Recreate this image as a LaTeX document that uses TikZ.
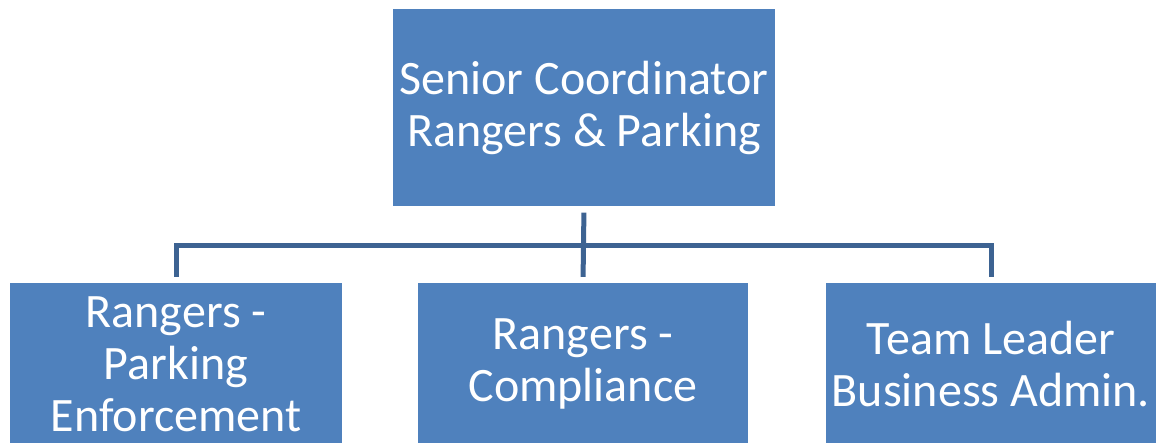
\documentclass[tikz,border=0pt]{standalone}
\usepackage{fontspec}
\setmainfont{Carlito}
\usepackage{tikz}
\usetikzlibrary{positioning}

\begin{document}
\begin{tikzpicture}[x=1pt,y=-1pt,
    unit/.style={draw=none,fill={rgb,255:red,79;green,129;blue,189},text=white,
      align=center,inner sep=0pt,font=\fontsize{48}{52}\selectfont},
    conn/.style={draw={rgb,255:red,61;green,99;blue,146},line width=5pt,
      shorten <=6pt,shorten >=6pt}]
  \useasboundingbox (0,0) rectangle (1156,443);
  \node[unit,minimum width=382pt,minimum height=197pt] (sc) at (584,108)
    {Senior Coordinator\\Rangers \& Parking};
  \node[unit,minimum width=332pt,minimum height=162pt] (pe) at (176,364)
    {Rangers -\\Parking\\Enforcement};
  \node[unit,minimum width=330pt,minimum height=162pt] (rc) at (583,364)
    {Rangers -\\Compliance};
  \node[unit,minimum width=330pt,minimum height=162pt] (ba) at (991,364)
    {Team Leader\\Business Admin.};
  \coordinate (bus) at (584,245.5);
  % reporting lines
  \draw[conn] (sc.south) -- (rc.north);
  \draw[conn] (pe.north) |- (bus) -| (ba.north);
\end{tikzpicture}
\end{document}
